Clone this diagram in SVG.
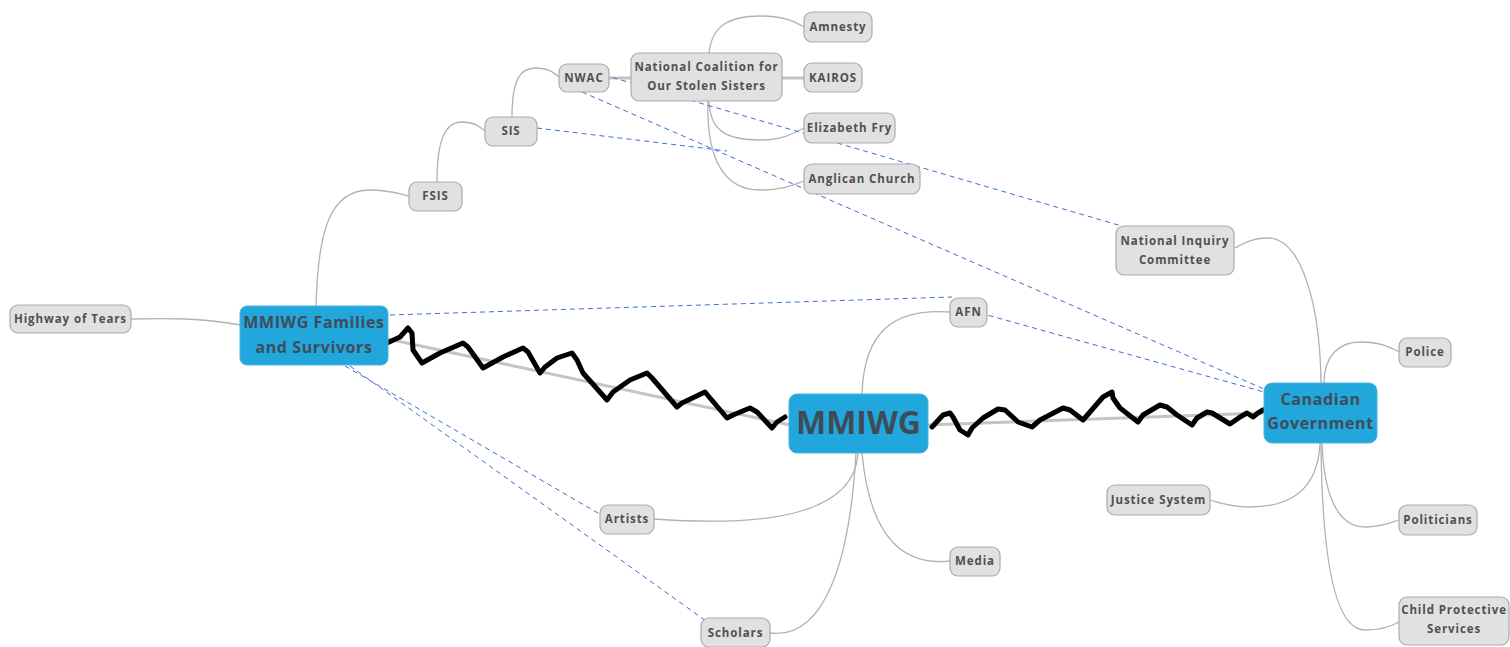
<svg xmlns="http://www.w3.org/2000/svg" width="1510" height="647" viewBox="0 0 1510 647">
<style>
.n rect{fill:#e1e1e1;stroke:#ababab;stroke-width:1.2}
.n text{font-family:"Open Sans","DejaVu Sans",sans-serif;font-weight:700;font-size:11.5px;fill:#505050;text-anchor:middle;letter-spacing:0.9px}
.b rect{fill:#22a7dd;stroke:#4ab3df;stroke-width:1}
.b text{font-family:"Open Sans","DejaVu Sans",sans-serif;font-weight:700;fill:#3f4c58;text-anchor:middle}
.c{fill:none;stroke:#b2b2b2;stroke-width:1.3}
.t{fill:none;stroke:#c4c4c4;stroke-width:3}
.d{fill:none;stroke:#3b6fd1;stroke-width:1;stroke-dasharray:5 4}
.z{fill:none;stroke:#000;stroke-width:5;stroke-linejoin:round;stroke-linecap:round}
</style>
<g id="connectors">
<path class="t" d="M388,339 L790,425"/>
<path class="t" d="M928,425 L1264,413"/>
<path class="t" d="M609,78 L631,78"/>
<path class="t" d="M782,78 L804,78"/>
<path class="c" d="M862,394 C864,330 895,308 950,312"/>
<path class="c" d="M858,453 C855,510 780,528 654,519"/>
<path class="c" d="M862,453 C870,540 905,566 950,561"/>
<path class="c" d="M856,453 C850,560 825,640 770,633"/>
<path class="c" d="M240,325 C200,318 170,318 131,319"/>
<path class="c" d="M316,306 C318,230 330,190 370,190 C390,190 400,194 409,196"/>
<path class="c" d="M437,182 C437,140 445,122 462,122 C475,122 480,127 485,131"/>
<path class="c" d="M512,117 C512,80 520,68 535,68 C548,68 553,72 559,77"/>
<path class="c" d="M709,53 C712,25 730,16 760,16 C785,16 795,22 804,27"/>
<path class="c" d="M709,101 C710,130 725,140 760,140 C785,140 795,132 804,128"/>
<path class="c" d="M708,101 C706,160 725,190 760,190 C785,190 795,184 804,181"/>
<path class="c" d="M1321,383 C1320,300 1300,238 1268,238 C1252,238 1242,244 1235,248"/>
<path class="c" d="M1324,383 C1324,355 1340,342 1360,342 C1380,342 1390,347 1399,352"/>
<path class="c" d="M1320,443 C1318,490 1290,507 1250,507 C1230,507 1220,503 1210,500"/>
<path class="c" d="M1322,443 C1324,500 1340,527 1365,527 C1382,527 1390,523 1399,520"/>
<path class="c" d="M1321,443 C1322,560 1335,630 1365,630 C1382,630 1392,626 1399,622"/>
<path class="d" d="M390,315 L952,297"/>
<path class="d" d="M980,313 L1264,392"/>
<path class="d" d="M582,92 L1264,389"/>
<path class="d" d="M604,75 L1125,227"/>
<path class="d" d="M537,128 L727,151"/>
<path class="d" d="M345,366 L603,516"/>
<path class="d" d="M350,366 L706,621"/>
<path class="z" d="M387,343 L400,337 L408,328 L412,333 L413,350 L422,363 L440,353 L463,343 L468,347 L483,368 L503,357 L523,348 L528,352 L540,373 L545,367 L557,358 L572,353 L577,360 L583,373 L607,400 L613,392 L630,380 L647,373 L652,378 L677,407 L682,403 L705,392 L710,398 L727,418 L733,415 L750,408 L757,412 L772,428 L777,422 L785,417"/>
<path class="z" d="M932,427 L943,415 L950,413 L953,417 L960,430 L968,435 L972,428 L983,418 L998,409 L1005,410 L1018,422 L1032,427 L1040,420 L1063,408 L1070,410 L1083,420 L1090,412 L1103,397 L1112,392 L1113,398 L1120,408 L1138,422 L1143,415 L1160,405 L1167,407 L1177,415 L1192,425 L1197,418 L1207,412 L1212,413 L1230,424 L1240,417 L1247,413 L1253,417 L1258,413 L1263,410"/>
</g>
<g id="amnesty" class="n"><rect x="804" y="12" width="68" height="30" rx="8"/><text x="838" y="31">Amnesty</text></g>
<g id="ncoss" class="n"><rect x="631" y="53" width="151" height="48" rx="8"/><text x="706.5" y="71">National Coalition for</text><text x="706.5" y="90">Our Stolen Sisters</text></g>
<g id="kairos" class="n"><rect x="804" y="63" width="58" height="29" rx="8"/><text x="833" y="82">KAIROS</text></g>
<g id="nwac" class="n"><rect x="559" y="64" width="50" height="28" rx="8"/><text x="584" y="82">NWAC</text></g>
<g id="efry" class="n"><rect x="804" y="113" width="91" height="30" rx="8"/><text x="849.5" y="132">Elizabeth Fry</text></g>
<g id="sis" class="n"><rect x="485" y="117" width="52" height="29" rx="8"/><text x="511" y="135">SIS</text></g>
<g id="anglican" class="n"><rect x="804" y="164" width="116" height="30" rx="8"/><text x="862" y="183">Anglican Church</text></g>
<g id="fsis" class="n"><rect x="409" y="182" width="53" height="29" rx="8"/><text x="435.5" y="200">FSIS</text></g>
<g id="nic" class="n"><rect x="1116" y="226" width="118" height="49" rx="8"/><text x="1175" y="245">National Inquiry</text><text x="1175" y="264">Committee</text></g>
<g id="highway" class="n"><rect x="10" y="305" width="121" height="28" rx="8"/><text x="70.5" y="323">Highway of Tears</text></g>
<g id="families" class="b"><rect x="240" y="306" width="148" height="59" rx="7"/><text x="314" y="328" font-size="16" letter-spacing="0.6">MMIWG Families</text><text x="314" y="353" font-size="16" letter-spacing="0.6">and Survivors</text></g>
<g id="afn" class="n"><rect x="950" y="298" width="37" height="29" rx="8"/><text x="968.5" y="316">AFN</text></g>
<g id="police" class="n"><rect x="1399" y="338" width="52" height="29" rx="8"/><text x="1425" y="356">Police</text></g>
<g id="mmiwg" class="b"><rect x="789" y="394" width="139" height="59" rx="8"/><text x="858.5" y="434" font-size="32">MMIWG</text></g>
<g id="gov" class="b"><rect x="1264" y="383" width="113" height="60" rx="8"/><text x="1320.5" y="405" font-size="16" letter-spacing="0.6">Canadian</text><text x="1320.5" y="429" font-size="16" letter-spacing="0.6">Government</text></g>
<g id="justice" class="n"><rect x="1107" y="485" width="103" height="30" rx="8"/><text x="1158.5" y="504">Justice System</text></g>
<g id="artists" class="n"><rect x="600" y="505" width="54" height="29" rx="8"/><text x="627" y="523">Artists</text></g>
<g id="politicians" class="n"><rect x="1399" y="505" width="78" height="30" rx="8"/><text x="1438" y="524">Politicians</text></g>
<g id="media" class="n"><rect x="950" y="547" width="50" height="29" rx="8"/><text x="975" y="565">Media</text></g>
<g id="scholars" class="n"><rect x="701" y="618" width="69" height="29" rx="8"/><text x="735.5" y="637">Scholars</text></g>
<g id="cps" class="n"><rect x="1399" y="597" width="110" height="48" rx="8"/><text x="1454" y="614">Child Protective</text><text x="1454" y="633">Services</text></g>
</svg>
